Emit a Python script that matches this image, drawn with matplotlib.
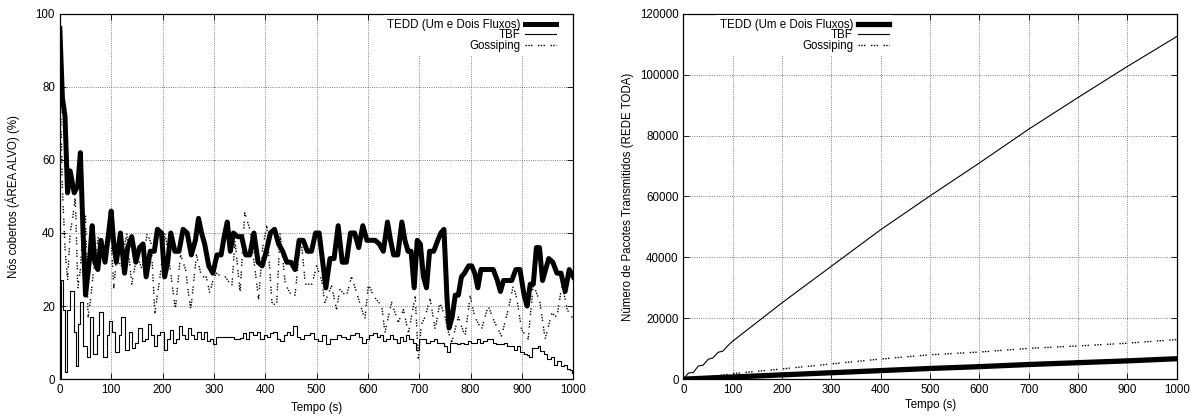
import matplotlib
matplotlib.use("Agg")
import matplotlib.pyplot as plt

plt.rcParams['font.family'] = ['Liberation Sans', 'DejaVu Sans']
plt.rcParams['font.size'] = 8.3

# ---- grafico esquerdo: nos cobertos (%) ----
tedd_t = [0, 5, 10, 15, 20, 28, 35, 40, 45, 50,
          58, 63, 68, 74, 80, 88, 95, 100, 105, 110,
          118, 126, 132, 140, 148, 155, 162, 168, 176, 184,
          190, 198, 204, 210, 216, 224, 232, 240, 248, 256,
          264, 270, 276, 282, 290, 298, 306, 314, 320, 326,
          332, 338, 346, 354, 362, 370, 378, 386, 394, 402,
          410, 418, 426, 434, 442, 450, 458, 466, 474, 482,
          490, 498, 505, 512, 518, 526, 534, 542, 550, 558,
          566, 574, 582, 590, 598, 606, 614, 622, 630, 638,
          644, 650, 658, 666, 672, 678, 684, 690, 696, 702,
          708, 714, 720, 728, 736, 742, 748, 754, 758, 764,
          770, 776, 782, 788, 796, 802, 808, 814, 820, 828,
          836, 844, 852, 858, 864, 872, 880, 888, 896, 904,
          910, 916, 922, 928, 934, 940, 946, 952, 960, 968,
          976, 984, 992, 1000]
tedd_v = [96, 77, 72, 51, 57, 51, 53, 62, 41, 23,
          33, 42, 32, 30, 38, 32, 40, 46, 37, 32,
          40, 29, 36, 39, 32, 36, 37, 28, 35, 35,
          41, 40, 28, 32, 40, 35, 35, 41, 40, 34,
          38, 44, 40, 37, 31, 29, 34, 34, 39, 43,
          35, 40, 39, 39, 34, 34, 40, 32, 31, 35,
          40, 41, 37, 35, 32, 32, 30, 38, 38, 35,
          35, 40, 40, 32, 25, 33, 33, 42, 32, 32,
          40, 40, 36, 42, 38, 38, 38, 37, 35, 43,
          38, 34, 34, 43, 38, 35, 35, 25, 38, 37,
          28, 25, 35, 35, 38, 40, 41, 22, 14, 17,
          23, 23, 28, 29, 31, 31, 29, 25, 30, 30,
          30, 30, 27, 24, 27, 27, 27, 30, 30, 23,
          20, 26, 26, 36, 36, 27, 30, 33, 32, 29,
          29, 24, 30, 28]

tbf_t = [0, 2, 6, 10, 14, 20, 27, 31, 35, 40,
         46, 52, 58, 65, 72, 76, 84, 92, 96, 102,
         108, 115, 120, 126, 134, 140, 146, 152, 160, 166,
         172, 178, 184, 190, 196, 202, 208, 214, 220, 226,
         232, 238, 244, 250, 256, 262, 268, 274, 280, 286,
         292, 298, 304, 320, 340, 350, 356, 362, 368, 376,
         384, 390, 398, 404, 410, 416, 422, 429, 436, 442,
         448, 455, 462, 468, 476, 487, 494, 503, 510, 519,
         526, 532, 539, 548, 558, 566, 575, 582, 588, 596,
         603, 610, 618, 624, 629, 636, 642, 649, 656, 662,
         668, 674, 680, 688, 694, 700, 707, 714, 720, 728,
         734, 741, 748, 754, 760, 767, 774, 780, 787, 794,
         800, 806, 812, 818, 825, 832, 838, 844, 850, 858,
         864, 870, 877, 884, 890, 897, 904, 910, 913, 920,
         926, 932, 936, 942, 949, 956, 962, 968, 975, 982,
         988, 994, 997, 1000]
tbf_v = [0, 27, 19, 2, 19, 24, 13, 3.5, 15, 21,
         9, 6, 17, 7, 12, 18.5, 6, 12, 16, 13,
         7.5, 12, 17, 8, 13, 8.5, 10, 14, 10.5, 11,
         15, 12, 9, 12, 13, 8, 11, 13.5, 10, 11,
         14.5, 12, 11, 14, 12, 11, 13, 11, 13, 10.5,
         11, 9.5, 11.5, 11.5, 11, 11.3, 12.5, 11, 13, 12,
         13, 11, 12, 11.5, 12.7, 13, 11, 10.5, 12, 13,
         12, 14.5, 11.5, 11, 12, 12.7, 11, 10.5, 12, 9.5,
         11, 11, 12, 11.5, 11, 12, 12.7, 11.5, 10, 11,
         12, 12.7, 11.5, 12, 10.5, 11, 12, 11, 10, 11.5,
         10.5, 12, 11, 10, 8, 11, 11, 10, 10.5, 11,
         10, 10, 9, 7.3, 10, 10, 9.5, 10, 9.5, 10.5,
         10, 10, 11, 10, 10.5, 11, 11, 10, 9.5, 9.5,
         10, 9, 9, 8, 9, 7.3, 7, 6.5, 6, 8.6,
         8.6, 9, 7.7, 7, 5.5, 6, 4, 5, 3.6, 4,
         2.7, 2.5, 1.8, 1.8]

goss_t = [0, 5, 10, 15, 20, 25, 30, 35, 40, 45,
          50, 55, 60, 65, 75, 85, 95, 100, 105, 110,
          120, 130, 140, 150, 160, 170, 178, 185, 195, 205,
          215, 225, 235, 245, 250, 255, 266, 276, 285, 292,
          298, 305, 315, 322, 335, 341, 351, 360, 370, 380,
          387, 395, 403, 413, 422, 429, 439, 452, 458, 465,
          470, 478, 491, 500, 510, 516, 529, 539, 545, 558,
          568, 578, 594, 601, 611, 627, 633, 646, 659, 669,
          679, 692, 698, 704, 711, 721, 731, 740, 750, 757,
          763, 776, 789, 799, 808, 821, 834, 847, 860, 873,
          883, 890, 899, 912, 922, 935, 945, 958, 968, 978,
          988, 997, 1000]
goss_v = [85, 52, 36, 27, 40, 44, 50, 25, 30, 42,
          45, 17, 22, 29, 39, 36, 40, 38, 25, 33,
          31, 40, 26, 34, 30, 40, 37, 18, 28, 40,
          30, 19, 34, 30, 24, 19, 34, 28, 28, 23.6,
          27, 29, 28, 28, 25.5, 38, 23.6, 45.5, 41, 30,
          22, 36, 42, 21, 20, 40, 26, 22.7, 23, 33,
          38, 26, 26, 31, 27, 21, 25.5, 19, 24.5, 22.7,
          28, 23.6, 16.4, 26, 22.7, 20, 12.7, 21, 15.5, 19,
          12.7, 22.7, 5.5, 15, 17, 22, 13.6, 21, 17, 12.7,
          10, 17, 11.8, 22.7, 17, 13.6, 20, 15.5, 11.8, 19,
          25.5, 22, 13.6, 11, 26, 21, 11, 18, 17, 26,
          19, 17, 17]

# ---- grafico direito: pacotes transmitidos ----
pac_t = [0, 10, 20, 30, 40, 50, 60, 70, 80, 90,
         100, 200, 300, 400, 500, 600, 700, 800, 900, 1000]
pac_tbf = [0, 2000, 2200, 4300, 4600, 6500, 7000, 8800, 9200, 11000,
           12500, 25100, 37100, 49100, 60200, 71000, 82100, 92500, 102700, 112500]
pac_goss = [0, 200, 350, 500, 650, 800, 950, 1150, 1350, 1550,
            1800, 3350, 5000, 6600, 8000, 8900, 10100, 10900, 11800, 13000]
pac_tedd = [0, 70, 140, 210, 280, 350, 420, 490, 560, 630,
            700, 1400, 2100, 2800, 3500, 4100, 4800, 5400, 6000, 6700]

labels = ['TEDD (Um e Dois Fluxos)', 'TBF', 'Gossiping']
dotted = (0, (1, 1, 1, 1, 1, 4))

fig = plt.figure(figsize=(11.97, 4.18), dpi=100)
ax1 = fig.add_axes([0.050, 0.093, 0.429, 0.874])
ax2 = fig.add_axes([0.571, 0.093, 0.412, 0.874])

ax1.plot(tedd_t, tedd_v, color='black', lw=3.6, label=labels[0])
ax1.plot(tbf_t, tbf_v, drawstyle='steps-post', color='black', lw=0.8, label=labels[1])
ax1.plot(goss_t, goss_v, color='black', lw=1.0, linestyle=dotted, label=labels[2])
ax1.set_xlim(0, 1000)
ax1.set_ylim(0, 100)
ax1.set_xticks(range(0, 1001, 100))
ax1.set_yticks(range(0, 101, 20))
ax1.set_xlabel('Tempo (s)')
ax1.set_ylabel('Nós cobertos (ÁREA ALVO) (%)', labelpad=11)

ax2.plot(pac_t, pac_tedd, color='black', lw=3.8, label=labels[0])
ax2.plot(pac_t, pac_tbf, color='black', lw=0.8, label=labels[1])
ax2.plot(pac_t, pac_goss, color='black', lw=1.0, linestyle=dotted, label=labels[2])
ax2.set_xlim(0, 1000)
ax2.set_ylim(0, 120000)
ax2.set_xticks(range(0, 1001, 100))
ax2.set_yticks(range(0, 120001, 20000))
ax2.set_xlabel('Tempo (s)', labelpad=2)
ax2.set_ylabel('Número de Pacotes Transmitidos (REDE TODA)')

for ax, anchor in [(ax1, (0.985, 1.012)), (ax2, (0.435, 1.012))]:
    ax.grid(True, color='0.35', linestyle=':', lw=0.6)
    ax.set_axisbelow(True)
    ax.tick_params(direction='in', top=True, right=True, length=4, width=0.6, labelsize=8.3)
    for s in ax.spines.values():
        s.set_linewidth(0.9)
    leg = ax.legend(loc='upper right', bbox_to_anchor=anchor, markerfirst=False,
                    frameon=True, fancybox=False, edgecolor='none', facecolor='white',
                    framealpha=1, handlelength=2.7, labelspacing=-0.1,
                    borderpad=0.3, handletextpad=0.4, fontsize=8.3)

fig.savefig('out.png', dpi=100)
